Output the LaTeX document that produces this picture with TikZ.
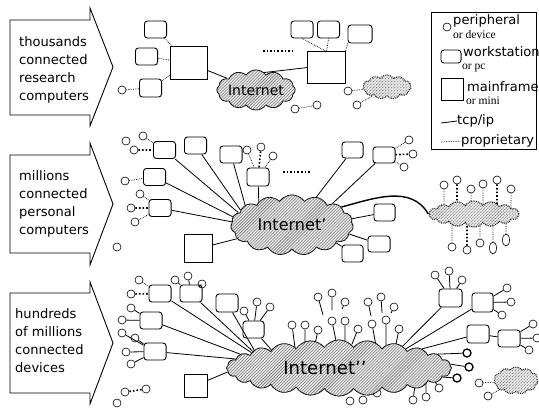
\documentclass[tikz,border=0pt]{standalone}
\usepackage{fontspec}
\setmainfont{DejaVu Sans}
\newfontfamily\serfnt{Liberation Serif}
\usetikzlibrary{shapes.symbols, shapes.geometric, patterns}
\pgfdeclarelayer{front}
\pgfsetlayers{main,front}

\begin{document}
\begin{tikzpicture}[scale=0.35]
\tikzstyle{every node}+=[inner sep=0pt]
\tikzstyle{perif}=[draw, circle, minimum size=8pt, line width=0.6pt]
\tikzstyle{perifb}=[perif, line width=1.3pt]
\tikzstyle{oval}=[draw, ellipse, minimum width=7pt, minimum height=12pt, line width=0.6pt]
\tikzstyle{wkst}=[draw, rounded corners=3pt, minimum width=22pt, minimum height=17pt, line width=0.9pt]
\tikzstyle{mfr}=[draw, line width=0.9pt]
\tikzstyle{net}=[cloud, cloud ignores aspect, cloud puff arc=110, draw, line width=0.8pt, fill=gray!18, postaction={pattern=north east lines, pattern color=gray!80!black}]
\tikzstyle{propnet}=[net, densely dotted, line width=1.1pt]
\tikzstyle{tcp}=[line width=0.8pt]
\tikzstyle{prop}=[densely dotted, line width=0.7pt]
\tikzstyle{propb}=[dotted, line width=1.6pt]
\tikzstyle{txt}=[anchor=west, align=left, font=\fontsize{13}{18}\selectfont]
\tikzstyle{lgtxt}=[anchor=west, font=\fontsize{13}{13}\selectfont]
\tikzstyle{sertxt}=[anchor=west, font=\serfnt\fontsize{11.5}{11.5}\selectfont]
\useasboundingbox (0,0) rectangle (53.9,-41.0);

% the three eras
\draw [line width=0.9pt] (1.0,-2.0) -- (9.0,-2.0) -- (9.0,-0.8) -- (11.3,-6.7) -- (9.0,-12.6) -- (9.0,-11.5) -- (1.0,-11.5) -- cycle;
\node [txt] (era1) at (1.9,-7.0) {thousands\\connected\\research\\computers};
\draw [line width=0.9pt] (1.0,-15.5) -- (9.0,-15.5) -- (9.0,-14.3) -- (11.3,-20.4) -- (9.0,-26.5) -- (9.0,-25.3) -- (1.0,-25.3) -- cycle;
\node [txt] (era2) at (1.9,-20.4) {millions\\connected\\personal\\computers};
\draw [line width=0.9pt] (1.0,-29.3) -- (9.0,-29.3) -- (9.0,-28.2) -- (11.3,-34.3) -- (9.0,-40.4) -- (9.0,-39.3) -- (1.0,-39.3) -- cycle;
\node [txt] (era3) at (1.5,-34.1) {hundreds\\of millions\\connected\\devices};

% clouds
\begin{pgfonlayer}{front}
\node [net, cloud puffs=12, minimum width=74pt, minimum height=40pt, font=\fontsize{14}{14}\selectfont] (inet1) at (25.6,-9.0) {Internet};
\node [propnet, cloud puffs=11, minimum width=48pt, minimum height=24pt] (pn1) at (38.7,-8.7) {};
\node [net, cloud puffs=15, minimum width=122pt, minimum height=60pt, font=\fontsize{16}{16}\selectfont] (inet2) at (29.2,-22.5) {Internet'};
\node [propnet, cloud puffs=16, minimum width=90pt, minimum height=26pt] (pn2) at (47.4,-21.4) {};
\node [net, cloud puffs=24, minimum width=224pt, minimum height=56pt, font=\fontsize{18}{18}\selectfont] (inet3) at (33.9,-36.8) {Internet'{}'\hspace*{28pt}};
\node [propnet, cloud puffs=11, minimum width=44pt, minimum height=27pt] (pn3) at (51.6,-38.05) {};
\end{pgfonlayer}

% top row
\node [wkst] (ws1) at (15.55,-2.95) {};
\node [wkst] (ws2) at (14.65,-5.65) {};
\node [wkst, minimum height=18pt] (ws3) at (15.05,-8.8) {};
\node [perif] (p1) at (12.2,-9.0) {};
\node [mfr, minimum width=36pt, minimum height=32pt] (mf1) at (18.9,-6.3) {};
\node [mfr, minimum width=37pt, minimum height=31pt] (mf2) at (32.65,-6.75) {};
\node [wkst] (ws4) at (30.2,-2.95) {};
\node [wkst] (ws5) at (32.85,-2.95) {};
\node [wkst, minimum width=24pt, minimum height=18pt] (ws6) at (36.0,-3.4) {};
\node [perif] (p2) at (29.5,-10.9) {};
\node [perif] (p3) at (31.7,-10.5) {};
\node [perif] (p4) at (34.8,-9.1) {};
\node [perif] (p5) at (35.7,-10.5) {};
\draw [propb] (26.3,-5.1) -- (29.2,-5.1);
\draw [prop] (ws1) -- (mf1);
\draw [prop] (ws2) -- (mf1);
\draw [prop] (ws3) -- (mf1);
\draw [prop] (p1) -- (ws3);
\draw [tcp] (mf1) -- (inet1);
\draw [tcp] (inet1.65) -- (mf2.west);
\draw [prop] (ws4.south) -- (mf2.north);
\draw [prop] (ws5.south) -- (mf2.north);
\draw [prop] (ws6.south west) -- (mf2.north east);
\draw [prop] (p2) -- (p3);
\draw [prop] (p4) -- (pn1);
\draw [prop] (p5) -- (pn1);

% middle row
\node [perif] (q1) at (12.6,-14.1) {};
\node [perif] (q2) at (14.3,-13.6) {};
\node [perif] (q3) at (13.4,-15.0) {};
\node [wkst] (m1) at (16.45,-15.0) {};
\node [wkst] (m2) at (19.55,-14.55) {};
\node [wkst] (m3) at (23.1,-15.45) {};
\node [wkst, minimum height=18pt] (m6) at (25.8,-17.7) {};
\node [perif] (r1) at (24.7,-15.0) {};
\node [perif] (r2) at (26.1,-14.7) {};
\node [perif] (r3) at (27.3,-15.6) {};
\node [perif] (q4) at (12.5,-18.1) {};
\node [wkst] (m4) at (15.45,-17.7) {};
\node [perif] (q5) at (14.0,-19.4) {};
\node [perif] (q6) at (13.1,-20.8) {};
\node [perif] (q7) at (13.5,-22.2) {};
\node [wkst] (m5) at (16.0,-20.8) {};
\node [perif] (q8) at (11.7,-24.7) {};
\node [mfr, minimum size=27pt] (mf3) at (19.85,-24.85) {};
\node [wkst, minimum width=21pt, minimum height=16pt] (m7) at (35.25,-15.0) {};
\node [wkst, minimum height=16pt] (m8) at (38.4,-15.5) {};
\node [perif] (s1) at (40.9,-14.0) {};
\node [perif] (s2) at (41.3,-15.4) {};
\node [perif] (s3) at (40.4,-16.7) {};
\node [wkst, minimum width=21pt] (m9) at (38.45,-21.25) {};
\node [wkst, minimum height=16pt] (m10) at (37.9,-24.4) {};
\node [wkst, minimum width=21pt] (m11) at (35.25,-25.35) {};
\draw [propb] (28.3,-17.2) -- (31.0,-17.2);
\draw [prop] (q2) -- (m1);
\draw [propb] (q3) -- (m1);
\draw [prop] (q4) -- (m4);
\draw [prop] (q5) -- (m5);
\draw [propb] (q6) -- (m5);
\draw [prop] (q7) -- (m5);
\draw [prop] (r1) -- (m6);
\draw [propb] (r2) -- (m6);
\draw [prop] (r3) -- (m6);
\draw [tcp] (m1) -- (inet2.167);
\draw [tcp] (m2) -- (inet2.164);
\draw [tcp] (m3) -- (inet2.157);
\draw [tcp] (m4) -- (inet2.172);
\draw [tcp] (m5) -- (inet2.177);
\draw [tcp] (mf3) -- (inet2.194);
\draw [tcp] (m6) -- (inet2.145);
\draw [tcp] (inet2.49) -- (m7);
\draw [tcp] (inet2.28) -- (m8);
\draw [tcp] (inet2.6) -- (m9);
\draw [tcp] (inet2.-9) -- (m10);
\draw [tcp] (inet2.-22) -- (m11);
\draw [prop] (m8) -- (s1);
\draw [propb] (m8) -- (s2);
\draw [prop] (m8) -- (s3);
\draw [line width=1.4pt] (inet2.20) to[out=15, in=120] (pn2.west);
\foreach \n/\cx/\cy/\st in {1/44.4/-18.5/prop, 2/45.7/-18.0/propb, 3/47.1/-18.9/prop, 4/48.3/-18.4/prop, 5/49.7/-18.0/propb, 6/51.1/-18.9/prop}{
  \node [perif] (u\n) at (\cx,\cy) {};
  \draw [\st] (u\n) -- (u\n |- pn2.center);
}
\foreach \n/\cx/\cy/\st in {1/45.2/-24.7/prop, 2/46.7/-25.0/propb, 3/48.0/-24.3/prop}{
  \node [perif] (v\n) at (\cx,\cy) {};
  \draw [\st] (v\n) -- (v\n |- pn2.center);
}
\node [oval] (v4) at (49.3,-24.8) {};
\node [oval] (v5) at (50.6,-24.0) {};
\draw [prop] (v4) -- (v4 |- pn2.center);
\draw [prop] (v5) -- (v5 |- pn2.center);

% bottom row
\node [perif] (w1) at (13.9,-28.0) {};
\node [perif] (w2) at (13.1,-29.4) {};
\node [wkst] (b1) at (16.0,-29.35) {};
\node [wkst] (b2) at (19.1,-29.35) {};
\node [perif] (w3) at (17.5,-28.0) {};
\node [perif] (w4) at (18.8,-27.6) {};
\node [perif] (w5) at (20.2,-28.4) {};
\node [wkst, minimum height=18pt] (b3) at (22.7,-30.3) {};
\node [wkst, minimum width=21pt] (b4) at (25.35,-32.95) {};
\node [perif] (w6) at (24.4,-31.1) {};
\node [perif] (w7) at (25.7,-30.2) {};
\node [perif] (w8) at (27.0,-30.7) {};
\node [wkst] (b5) at (15.1,-32.05) {};
\node [perif] (w9) at (13.1,-30.8) {};
\node [perif] (w10) at (12.2,-32.0) {};
\node [wkst] (b6) at (15.5,-35.15) {};
\node [perif] (w11) at (12.2,-33.3) {};
\node [perif] (w12) at (13.5,-33.8) {};
\node [perif] (w13) at (12.6,-35.2) {};
\node [perif] (w14) at (13.1,-36.4) {};
\node [mfr, minimum size=23pt] (mf4) at (19.55,-38.55) {};
\node [perif] (w15) at (12.5,-39.2) {};
\node [perif] (w16) at (14.6,-38.9) {};
\node [perif] (w17) at (11.7,-40.3) {};
\draw [prop] (w1) -- (b1);
\draw [propb] (w2) -- (b1);
\draw [tcp] (w3) -- (b2);
\draw [tcp] (w4) -- (b2);
\draw [tcp] (w5) -- (b2);
\draw [tcp] (w6) -- (b4);
\draw [tcp] (w7) -- (b4);
\draw [tcp] (w8) -- (b4);
\draw [tcp] (w9) -- (b5);
\draw [tcp] (w10) -- (b5);
\draw [tcp] (w11) -- (b6);
\draw [tcp] (w12) -- (b6);
\draw [tcp] (w13) -- (b6);
\draw [tcp] (w14) -- (b6);
\draw [propb] (w15) -- (w16);
\draw [tcp] (b1) -- (inet3.170);
\draw [tcp] (b2) -- (inet3.169);
\draw [tcp] (b3) -- (inet3.168);
\draw [tcp] (b4) -- (inet3.165);
\draw [tcp] (b5) -- (inet3.172);
\draw [tcp] (b6) -- (inet3.175);
\draw [tcp] (mf4) -- (inet3.182);
% devices standing on the cloud
\foreach \n/\cx/\cy/\ex/\ey in {1/29.2/-32.5/29.5/-34.8, 2/30.5/-32.5/30.5/-34.8, 3/31.8/-33.0/31.5/-34.4,
    4/31.8/-29.7/32.3/-31.5, 5/33.2/-29.3/33.2/-31.0, 6/34.5/-30.2/34.2/-30.9,
    7/33.2/-32.1/33.7/-34.6, 8/34.5/-32.1/34.5/-34.6, 9/35.8/-32.9/35.2/-34.4,
    10/36.8/-30.2/37.1/-31.6, 11/38.1/-29.7/38.2/-31.3, 12/39.4/-30.7/39.1/-31.3,
    13/37.2/-32.4/37.6/-34.6, 14/38.6/-32.0/38.6/-34.6, 15/39.9/-32.9/39.6/-34.4}{
  \node [perif] (k\n) at (\cx,\cy) {};
  \coordinate (ke\n) at (\ex,\ey);
  \draw [tcp] (k\n) -- (ke\n);
}
\node [wkst, minimum width=23pt, minimum height=18pt] (b7) at (45.05,-29.8) {};
\node [perif] (x1) at (43.5,-27.5) {};
\node [perif] (x2) at (44.9,-27.1) {};
\node [perif] (x3) at (46.2,-28.0) {};
\node [wkst, minimum width=21pt, minimum height=19pt] (b8) at (48.25,-30.25) {};
\node [perif] (x4) at (50.7,-28.8) {};
\node [perif] (x5) at (51.1,-30.2) {};
\node [perif] (x6) at (50.2,-31.5) {};
\node [wkst, minimum height=18pt] (b9) at (47.8,-33.4) {};
\node [wkst] (b10) at (50.9,-33.85) {};
\node [perif] (x7) at (53.3,-32.4) {};
\node [perif] (x8) at (53.7,-33.8) {};
\node [perif] (x9) at (52.9,-35.0) {};
\node [perifb] (y1) at (46.7,-35.3) {};
\node [perifb] (y2) at (46.9,-36.7) {};
\node [perifb] (y3) at (45.7,-37.8) {};
\node [perif] (z1) at (43.9,-38.8) {};
\node [perif] (z2) at (42.6,-39.7) {};
\node [perif] (z3) at (41.3,-40.0) {};
\node [perif] (z4) at (37.7,-39.3) {};
\node [perif] (z5) at (36.3,-40.0) {};
\node [perif] (z6) at (35.0,-40.1) {};
\coordinate (ze1) at (43.0,-37.4);
\coordinate (ze2) at (42.6,-37.6);
\coordinate (ze3) at (41.6,-37.8);
\node [perif] (t1) at (47.9,-38.3) {};
\node [perif] (t2) at (48.8,-39.6) {};
\draw [tcp] (x1) -- (b7);
\draw [tcp] (x2) -- (b7);
\draw [tcp] (x3) -- (b7);
\draw [tcp] (inet3.19) -- (b7);
\draw [tcp] (inet3.16) -- (b8);
\draw [tcp] (b8) -- (x4);
\draw [tcp] (b8) -- (x5);
\draw [tcp] (b8) -- (x6);
\draw [tcp] (inet3.13) -- (b9);
\draw [tcp] (b9) -- (b10);
\draw [tcp] (b10) -- (x7);
\draw [tcp] (b10) -- (x8);
\draw [tcp] (b10) -- (x9);
\draw [tcp] (inet3.8) -- (y1);
\draw [tcp] (inet3.2) -- (y2);
\draw [tcp] (inet3.-5) -- (y3);
\draw [tcp] (z1) -- (ze1);
\draw [tcp] (z2) -- (ze2);
\draw [tcp] (z3) -- (ze3);
\draw [prop] (t1) -- (pn3);
\draw [prop] (t2) -- (pn3);

% legend
\node [draw, line width=0.8pt, minimum width=104pt, minimum height=136pt] (legend) at (48.4,-8.1) {};
\node [perif] (lp) at (44.7,-2.7) {};
\node [lgtxt] (lpt) at (45.3,-2.1) {peripheral};
\node [sertxt] (lpt2) at (45.3,-3.5) {or device};
\node [wkst, minimum width=20pt, minimum height=13pt] (lw) at (45.1,-5.65) {};
\node [lgtxt] (lwt) at (46.3,-5.2) {workstation};
\node [sertxt] (lwt2) at (46.2,-6.85) {or pc};
\node [mfr, minimum size=22pt] (lm) at (45.2,-8.9) {};
\node [lgtxt] (lmt) at (46.7,-8.65) {mainframe};
\node [sertxt] (lmt2) at (46.6,-10.1) {or mini};
\coordinate (lt) at (44.1,-12.3);
\node [lgtxt] (ltt) at (45.7,-12.1) {tcp/ip};
\draw [tcp] (lt) -- (ltt.west);
\coordinate (lpp) at (44.1,-14.2);
\node [lgtxt] (lppt) at (46.1,-14.1) {proprietary};
\draw [prop] (lpp) -- (lppt.west);
\end{tikzpicture}
\end{document}
